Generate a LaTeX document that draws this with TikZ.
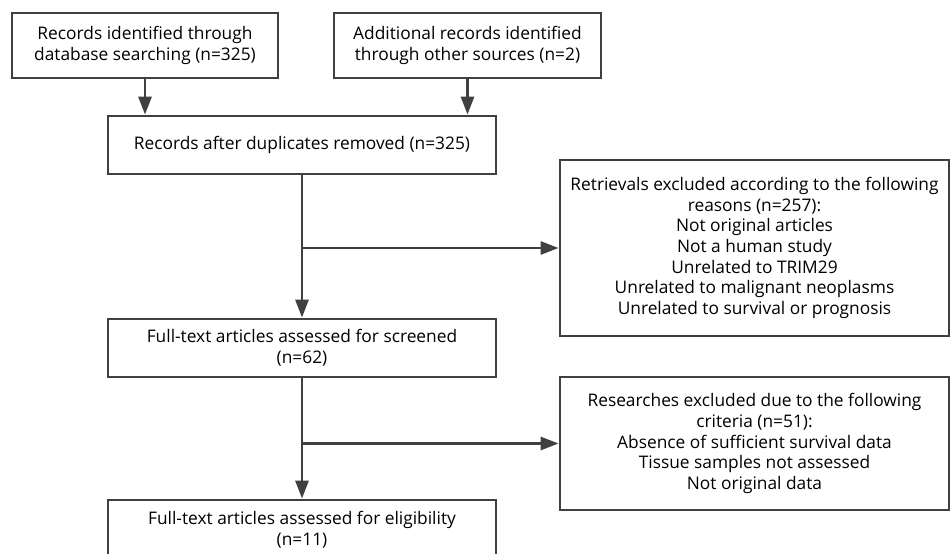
\documentclass[tikz,border=0pt]{standalone}
\usepackage{fontspec}
\setmainfont{Open Sans}
\usetikzlibrary{arrows.meta,calc}
\definecolor{ln}{HTML}{404040}
\begin{document}
\begin{tikzpicture}[x=1bp,y=-1bp,
  box/.style={draw=ln,line width=2.8bp,rectangle,align=center,inner sep=0pt,
    font=\fontsize{17.4}{20.8}\selectfont,text=black},
  arr/.style={draw=ln,line width=2.8bp,-{Triangle[length=18bp,width=13bp]}},
  ln/.style={draw=ln,line width=2.8bp}]
\useasboundingbox (0,0) rectangle (951,554);
\node[box,minimum width=266bp,minimum height=65bp] (b1) at (145,45.5)
  {Records identified through\\database searching (n=325)};
\node[box,minimum width=267bp,minimum height=65bp] (b2) at (467.5,45.5)
  {Additional records identified\\through other sources (n=2)};
\node[box,minimum width=388bp,minimum height=58bp] (b3) at (302,145)
  {Records after duplicates removed (n=325)};
\node[box,minimum width=389bp,minimum height=176bp] (b4) at (754.5,248)
  {Retrievals excluded according to the following\\reasons (n=257):\\Not original articles\\Not a human study\\Unrelated to TRIM29\\Unrelated to malignant neoplasms\\Unrelated to survival or prognosis};
\node[box,minimum width=388bp,minimum height=58bp] (b5) at (302,348)
  {Full-text articles assessed for screened\\(n=62)};
\node[box,minimum width=389bp,minimum height=133bp] (b6) at (754.5,443.5)
  {Researches excluded due to the following\\criteria (n=51):\\Absence of sufficient survival data\\Tissue samples not assessed\\Not original data};
\node[box,minimum width=388bp,minimum height=60bp] (b7) at (302,530)
  {Full-text articles assessed for eligibility\\(n=11)};
\coordinate (j1) at (b3.south |- b4.west);
\coordinate (j2) at (b5.south |- b6.west);
\draw[arr] (b1.south) -- (b1.south |- b3.north);
\draw[arr] (b2.south) -- (b2.south |- b3.north);
\draw[arr] (b3.south) -- (b5.north);
\draw[arr] (j1) -- (b4.west);
\draw[arr] (b5.south) -- (b7.north);
\draw[arr] (j2) -- (b6.west);
\end{tikzpicture}
\end{document}
